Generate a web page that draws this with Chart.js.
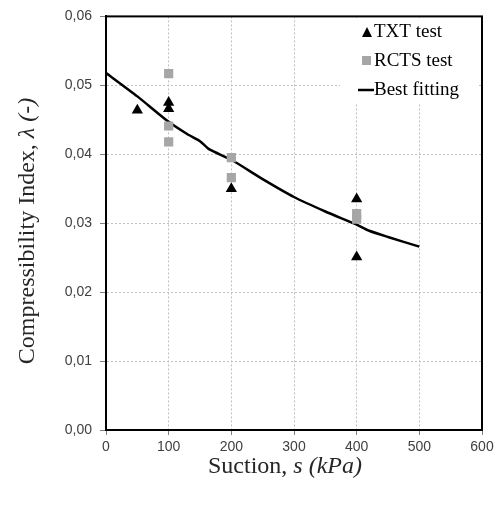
<!DOCTYPE html>
<html>
<head>
<meta charset="utf-8">
<script src="https://cdn.jsdelivr.net/npm/chart.js@4"></script>
<style>
  body { margin: 0; background: #fff; }
  canvas { display: block; }
</style>
</head>
<body>
<canvas id="myChart" width="503" height="506"></canvas>
<script>
// TXT test points
const txtSuction = [50, 100, 100, 200, 400, 400];
const txtLambda = [0.0464, 0.0475, 0.0466, 0.0350, 0.0335, 0.0251];
// RCTS test points
const rctsSuction = [100, 100, 100, 200, 200, 400, 400];
const rctsLambda = [0.0517, 0.0441, 0.0418, 0.0395, 0.0366, 0.0314, 0.0306];
// best fitting curve
const fitSuction = [0, 50, 100, 130, 150, 165, 200, 250, 300, 350, 400, 420, 450, 500];
const fitLambda = [0.0518, 0.0484, 0.0447, 0.0429, 0.0419, 0.0407, 0.0392, 0.0364, 0.0338, 0.0317, 0.0298, 0.0289, 0.0280, 0.0266];
// axes
const xTicks = [0, 100, 200, 300, 400, 500, 600];
const yTicks = [0, 0.01, 0.02, 0.03, 0.04, 0.05, 0.06];
const seriesNames = ['TXT test', 'RCTS test', 'Best fitting'];

function toPoints(xs, ys) {
    return xs.map(function (x, i) { return { x: x, y: ys[i] }; });
}

// draw a line of text with normal and italic parts, centred on (cx, cy)
function drawMixed(ctx, parts, cx, cy, size) {
    var total = 0;
    parts.forEach(function (p) {
        ctx.font = (p.it ? 'italic ' : '') + size + 'px "Liberation Serif"';
        p.w = ctx.measureText(p.t).width;
        total += p.w;
    });
    var x = cx - total / 2;
    parts.forEach(function (p) {
        ctx.font = (p.it ? 'italic ' : '') + size + 'px "Liberation Serif"';
        ctx.fillText(p.t, x, cy);
        x += p.w;
    });
}

const titlesPlugin = {
    id: 'titles',
    afterDraw: function (chart) {
        var ctx = chart.ctx;
        var a = chart.chartArea;
        ctx.save();
        // frame
        ctx.strokeStyle = '#000';
        ctx.lineWidth = 2;
        ctx.strokeRect(a.left, a.top, a.right - a.left, a.bottom - a.top);
        ctx.fillStyle = '#262626';
        ctx.textAlign = 'left';
        ctx.textBaseline = 'middle';
        drawMixed(ctx, [{ t: 'Suction, ' }, { t: 's (kPa)', it: true }], 285, 467, 24);
        ctx.translate(28, 231);
        ctx.rotate(-Math.PI / 2);
        drawMixed(ctx, [{ t: 'Compressibility Index, ' }, { t: '\u03bb (-)', it: true }], 0, 0, 24);
        ctx.restore();
    }
};

const legendPlugin = {
    id: 'insideLegend',
    afterDatasetsDraw: function (chart) {
        var ctx = chart.ctx;
        ctx.save();
        ctx.fillStyle = '#fff';
        ctx.fillRect(340, 18, 138, 86);
        ctx.font = '19px "Liberation Serif"';
        ctx.textBaseline = 'middle';
        ctx.textAlign = 'left';
        // triangle
        ctx.fillStyle = '#000';
        ctx.beginPath();
        ctx.moveTo(367, 27);
        ctx.lineTo(372, 37);
        ctx.lineTo(362, 37);
        ctx.closePath();
        ctx.fill();
        ctx.fillText(seriesNames[0], 374, 32);
        // square
        ctx.fillStyle = '#a6a6a6';
        ctx.fillRect(362, 56, 9, 9);
        ctx.fillStyle = '#000';
        ctx.fillText(seriesNames[1], 374, 61);
        // line
        ctx.strokeStyle = '#000';
        ctx.lineWidth = 2.5;
        ctx.beginPath();
        ctx.moveTo(358, 90);
        ctx.lineTo(374, 90);
        ctx.stroke();
        ctx.fillText(seriesNames[2], 374, 90);
        ctx.restore();
    }
};

var ctx = document.getElementById('myChart').getContext('2d');
var chart = new Chart(ctx, {
    type: 'scatter',
    data: {
        datasets: [{
            label: seriesNames[0],
            data: toPoints(txtSuction, txtLambda),
            pointStyle: 'triangle',
            pointRadius: 6.5,
            backgroundColor: '#000',
            borderColor: '#000',
            borderWidth: 0
        }, {
            label: seriesNames[1],
            data: toPoints(rctsSuction, rctsLambda),
            pointStyle: 'rect',
            pointRadius: 6.5,
            backgroundColor: '#a6a6a6',
            borderColor: '#a6a6a6',
            borderWidth: 0
        }, {
            label: seriesNames[2],
            data: toPoints(fitSuction, fitLambda),
            showLine: true,
            pointRadius: 0,
            borderColor: '#000',
            borderWidth: 2.5,
            tension: 0.2,
            fill: false
        }]
    },
    options: {
        responsive: false,
        animation: false,
        layout: { padding: { top: 15, right: 21, left: 0, bottom: 0 } },
        plugins: {
            legend: { display: false },
            tooltip: { enabled: false }
        },
        scales: {
            x: {
                type: 'linear',
                min: xTicks[0],
                max: xTicks[xTicks.length - 1],
                afterBuildTicks: function (scale) {
                    scale.ticks = xTicks.map(function (v) { return { value: v }; });
                },
                afterFit: function (scale) { scale.height = 76; },
                grid: { color: '#bfbfbf', tickColor: '#808080', tickLength: 5, tickBorderDash: [] },
                border: { display: true, color: '#000', width: 2, dash: [2, 2] },
                ticks: {
                    color: '#404040',
                    padding: 4,
                    maxRotation: 0,
                    font: { family: '"Liberation Sans"', size: 14 }
                }
            },
            y: {
                type: 'linear',
                min: yTicks[0],
                max: yTicks[yTicks.length - 1],
                afterBuildTicks: function (scale) {
                    scale.ticks = yTicks.map(function (v) { return { value: v }; });
                },
                afterFit: function (scale) { scale.width = 106; },
                grid: { color: '#bfbfbf', tickColor: '#808080', tickLength: 6, tickBorderDash: [] },
                border: { display: true, color: '#000', width: 2, dash: [2, 2] },
                ticks: {
                    color: '#404040',
                    padding: 8,
                    font: { family: '"Liberation Sans"', size: 14 },
                    callback: function (v) { return v.toFixed(2).replace('.', ','); }
                }
            }
        }
    },
    plugins: [titlesPlugin, legendPlugin]
});
</script>
</body>
</html>
